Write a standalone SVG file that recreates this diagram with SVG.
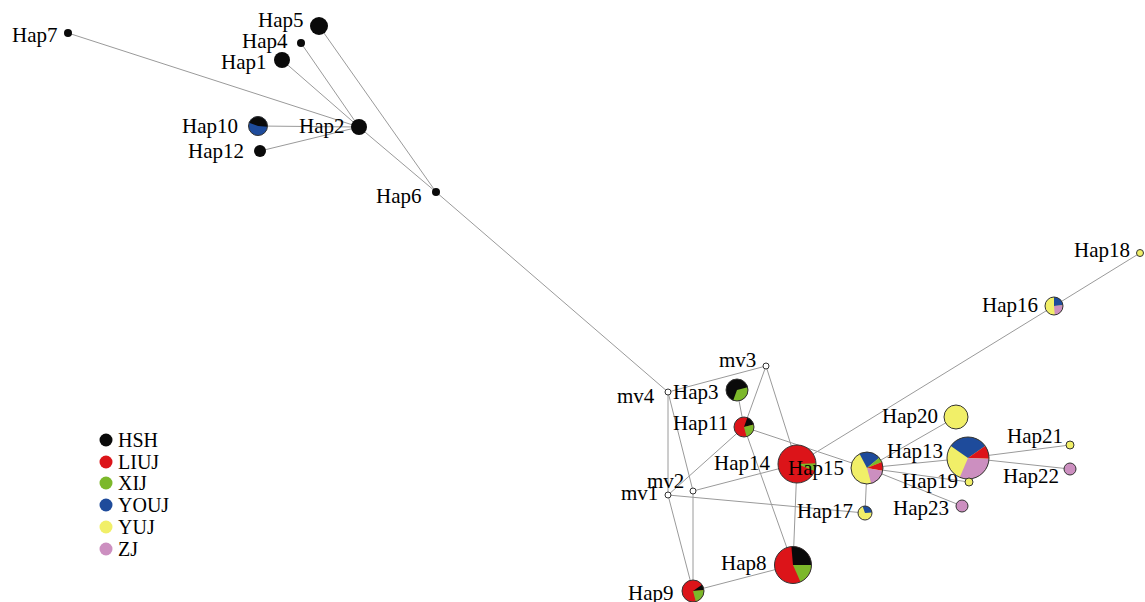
<svg xmlns="http://www.w3.org/2000/svg" width="1145" height="602" viewBox="0 0 1145 602">
<style>
.e{stroke:#9a9a9a;stroke-width:1;fill:none}
.o{fill:none;stroke:#333;stroke-width:1}
.mv{fill:#fff;stroke:#333;stroke-width:1}
.l{font-family:"Liberation Serif","Times New Roman",serif;font-size:21px;fill:#000}
.lg{font-family:"Liberation Serif","Times New Roman",serif;font-size:20px;fill:#000}
.k{fill:#0a0a0a}.r{fill:#dc1419}.g{fill:#7cb82a}.b{fill:#1e4b9b}.y{fill:#f1ef68}.p{fill:#cc8fc0}
</style>
<rect width="1145" height="602" fill="#fff"/>
<g id="connectors">
<line class="e" x1="68" y1="33" x2="359" y2="127"/>
<line class="e" x1="301" y1="43" x2="359" y2="127"/>
<line class="e" x1="282" y1="60" x2="359" y2="127"/>
<line class="e" x1="258" y1="126" x2="359" y2="127"/>
<line class="e" x1="260" y1="151" x2="359" y2="127"/>
<line class="e" x1="319" y1="26" x2="436" y2="192"/>
<line class="e" x1="359" y1="127" x2="436" y2="192"/>
<line class="e" x1="436" y1="192" x2="668" y2="392"/>
<line class="e" x1="668" y1="392" x2="766" y2="366"/>
<line class="e" x1="668" y1="392" x2="668" y2="495"/>
<line class="e" x1="668" y1="392" x2="693" y2="491"/>
<line class="e" x1="766" y1="366" x2="744" y2="427"/>
<line class="e" x1="766" y1="366" x2="797" y2="464"/>
<line class="e" x1="737" y1="390" x2="744" y2="427"/>
<line class="e" x1="744" y1="427" x2="668" y2="495"/>
<line class="e" x1="744" y1="427" x2="793" y2="565"/>
<line class="e" x1="744" y1="427" x2="867" y2="468"/>
<line class="e" x1="693" y1="491" x2="797" y2="464"/>
<line class="e" x1="668" y1="495" x2="865" y2="513"/>
<line class="e" x1="668" y1="495" x2="693" y2="591"/>
<line class="e" x1="693" y1="491" x2="693" y2="591"/>
<line class="e" x1="693" y1="591" x2="793" y2="565"/>
<line class="e" x1="797" y1="464" x2="793" y2="565"/>
<line class="e" x1="797" y1="464" x2="1054" y2="306"/>
<line class="e" x1="1054" y1="306" x2="1140" y2="253"/>
<line class="e" x1="867" y1="468" x2="968" y2="458"/>
<line class="e" x1="867" y1="468" x2="956" y2="417"/>
<line class="e" x1="867" y1="468" x2="969" y2="482"/>
<line class="e" x1="867" y1="468" x2="962" y2="506"/>
<line class="e" x1="867" y1="468" x2="865" y2="513"/>
<line class="e" x1="968" y1="458" x2="1070" y2="445"/>
<line class="e" x1="968" y1="458" x2="1070" y2="469"/>
</g>
<g id="Hap7"><circle class="k" cx="68" cy="33" r="4"/><text class="l" x="12" y="42">Hap7</text></g>
<g id="Hap5"><circle class="k" cx="319" cy="26" r="9"/><text class="l" x="258" y="27">Hap5</text></g>
<g id="Hap4"><circle class="k" cx="301" cy="43" r="4"/><text class="l" x="242" y="48">Hap4</text></g>
<g id="Hap1"><circle class="k" cx="282" cy="60" r="8"/><text class="l" x="221" y="69">Hap1</text></g>
<g id="Hap10"><circle class="b" cx="258" cy="126" r="9.5"/><path class="k" d="M258,126 L249.07,122.75 A9.5,9.5 0 0 1 267.46,126.83 Z"/><circle class="o" cx="258" cy="126" r="9.5"/><text class="l" x="182" y="133">Hap10</text></g>
<g id="Hap2"><circle class="k" cx="359" cy="127" r="8"/><text class="l" x="299" y="133">Hap2</text></g>
<g id="Hap12"><circle class="k" cx="260" cy="151" r="6"/><text class="l" x="188" y="158">Hap12</text></g>
<g id="Hap6"><circle class="k" cx="436" cy="192" r="4"/><text class="l" x="376" y="203">Hap6</text></g>
<g id="mv4"><circle class="mv" cx="668" cy="392" r="3"/><text class="l" x="617" y="403">mv4</text></g>
<g id="mv3"><circle class="mv" cx="766" cy="366" r="3"/><text class="l" x="719" y="367">mv3</text></g>
<g id="mv2"><circle class="mv" cx="693" cy="491" r="3"/><text class="l" x="647" y="488">mv2</text></g>
<g id="mv1"><circle class="mv" cx="668" cy="495" r="3"/><text class="l" x="621" y="500">mv1</text></g>
<g id="Hap3"><circle class="k" cx="737" cy="390" r="11"/><path class="g" d="M737,390 L747.63,387.15 A11,11 0 0 1 733.24,400.34 Z"/><circle class="o" cx="737" cy="390" r="11"/><text class="l" x="673" y="399">Hap3</text></g>
<g id="Hap11"><circle class="r" cx="744" cy="427" r="10"/><path class="k" d="M744,427 L747.42,417.60 A10,10 0 0 1 753.66,424.41 Z"/><path class="g" d="M744,427 L753.66,424.41 A10,10 0 0 1 746.59,436.66 Z"/><circle class="o" cx="744" cy="427" r="10"/><text class="l" x="673" y="430">Hap11</text></g>
<g id="Hap14"><circle class="r" cx="797" cy="464" r="19"/><path class="g" d="M797,464 L815.99,463.34 A19,19 0 0 1 814.62,471.12 Z"/><circle class="o" cx="797" cy="464" r="19"/><text class="l" x="714" y="470">Hap14</text></g>
<g id="Hap8"><circle class="r" cx="793" cy="565" r="18.5"/><path class="k" d="M793,565 L791.39,546.57 A18.5,18.5 0 0 1 811.5,565 Z"/><path class="g" d="M793,565 L811.5,565 A18.5,18.5 0 0 1 800.52,581.90 Z"/><circle class="o" cx="793" cy="565" r="18.5"/><text class="l" x="721" y="570">Hap8</text></g>
<g id="Hap9"><circle class="r" cx="693" cy="591" r="11"/><path class="k" d="M693,591 L702.01,584.69 A11,11 0 0 1 703.96,590.04 Z"/><path class="g" d="M693,591 L703.96,590.04 A11,11 0 0 1 695.85,601.63 Z"/><circle class="o" cx="693" cy="591" r="11"/><text class="l" x="628" y="600">Hap9</text></g>
<g id="Hap15"><circle class="y" cx="867" cy="468" r="16"/><path class="b" d="M867,468 L859.49,453.87 A16,16 0 0 1 879.26,457.72 Z"/><path class="g" d="M867,468 L879.26,457.72 A16,16 0 0 1 881.84,462.01 Z"/><path class="r" d="M867,468 L881.84,462.01 A16,16 0 0 1 882.76,470.78 Z"/><path class="p" d="M867,468 L882.76,470.78 A16,16 0 0 1 871.14,483.45 Z"/><circle class="o" cx="867" cy="468" r="16"/><text class="l" x="788" y="475">Hap15</text></g>
<g id="Hap13"><circle class="y" cx="968" cy="458" r="21"/><path class="b" d="M968,458 L950.80,445.95 A21,21 0 0 1 985.20,445.95 Z"/><path class="r" d="M968,458 L985.20,445.95 A21,21 0 0 1 988.99,458.73 Z"/><path class="p" d="M968,458 L988.99,458.73 A21,21 0 0 1 959.80,477.33 Z"/><circle class="o" cx="968" cy="458" r="21"/><text class="l" x="887" y="458">Hap13</text></g>
<g id="Hap20"><circle class="y" cx="956" cy="417" r="12"/><circle class="o" cx="956" cy="417" r="12"/><text class="l" x="882" y="423">Hap20</text></g>
<g id="Hap19"><circle class="y" cx="969" cy="482" r="4"/><circle class="o" cx="969" cy="482" r="4"/><text class="l" x="902" y="488">Hap19</text></g>
<g id="Hap21"><circle class="y" cx="1070" cy="445" r="4"/><circle class="o" cx="1070" cy="445" r="4"/><text class="l" x="1007" y="443">Hap21</text></g>
<g id="Hap22"><circle class="p" cx="1070" cy="469" r="6"/><circle class="o" cx="1070" cy="469" r="6"/><text class="l" x="1003" y="483">Hap22</text></g>
<g id="Hap23"><circle class="p" cx="962" cy="506" r="6"/><circle class="o" cx="962" cy="506" r="6"/><text class="l" x="893" y="515">Hap23</text></g>
<g id="Hap17"><circle class="y" cx="865" cy="513" r="7"/><path class="b" d="M865,513 L862.61,506.42 A7,7 0 0 1 871.97,512.39 Z"/><circle class="o" cx="865" cy="513" r="7"/><text class="l" x="797" y="518">Hap17</text></g>
<g id="Hap16"><circle class="y" cx="1054" cy="306" r="9"/><path class="b" d="M1054,306 L1054,297 A9,9 0 0 1 1062.97,305.22 Z"/><path class="p" d="M1054,306 L1062.97,305.22 A9,9 0 0 1 1054.78,314.97 Z"/><circle class="o" cx="1054" cy="306" r="9"/><text class="l" x="982" y="312">Hap16</text></g>
<g id="Hap18"><circle class="y" cx="1140" cy="253" r="3.5"/><circle class="o" cx="1140" cy="253" r="3.5"/><text class="l" x="1074" y="257">Hap18</text></g>
<g id="legend">
<circle class="k" cx="106" cy="440" r="6.5"/><text class="lg" x="118" y="447">HSH</text>
<circle class="r" cx="106" cy="462" r="6.5"/><text class="lg" x="118" y="469">LIUJ</text>
<circle class="g" cx="106" cy="483" r="6.5"/><text class="lg" x="118" y="490">XIJ</text>
<circle class="b" cx="106" cy="505" r="6.5"/><text class="lg" x="118" y="512">YOUJ</text>
<circle class="y" cx="106" cy="527" r="6.5"/><text class="lg" x="118" y="534">YUJ</text>
<circle class="p" cx="106" cy="549" r="6.5"/><text class="lg" x="118" y="556">ZJ</text>
</g>
</svg>
